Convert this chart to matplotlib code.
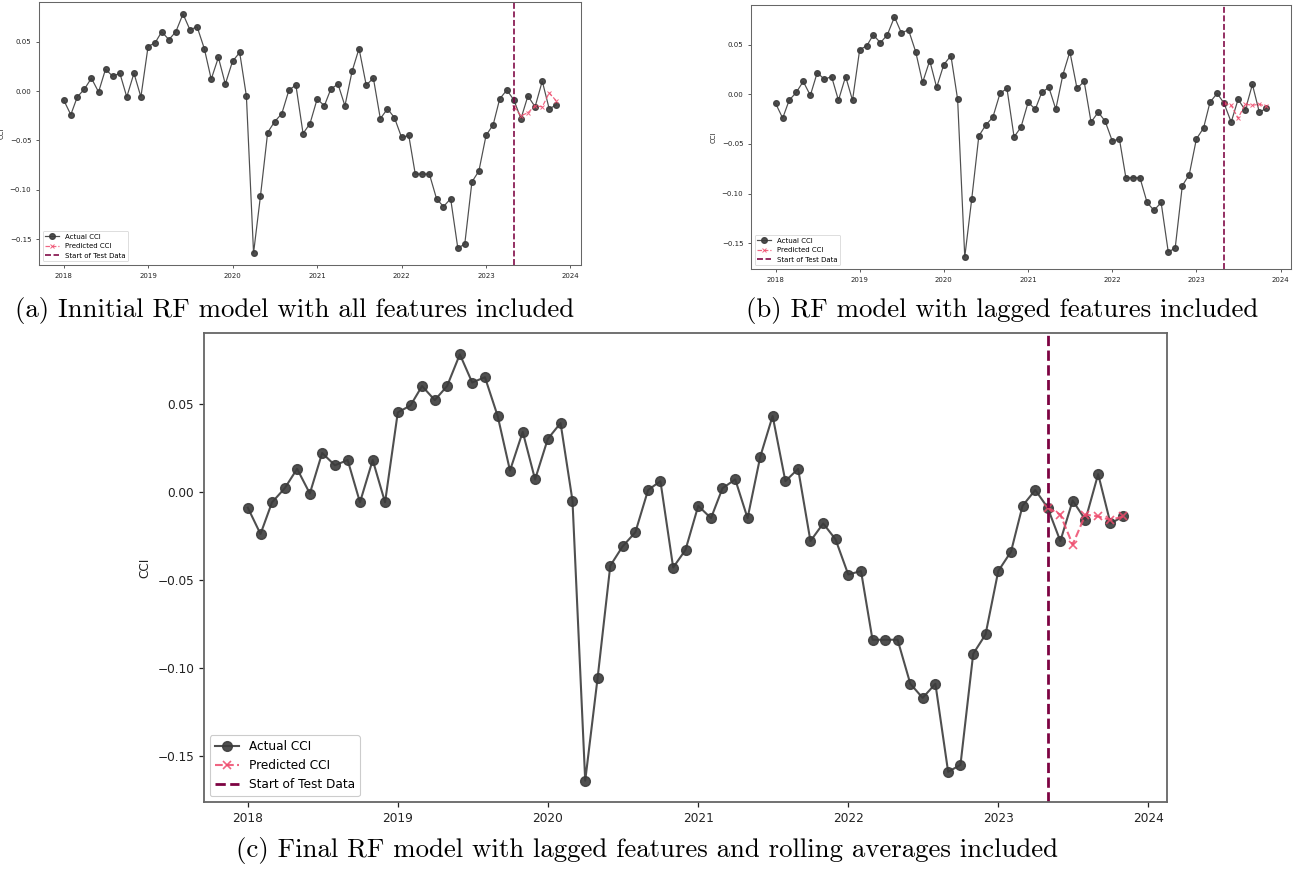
import matplotlib
matplotlib.use("Agg")
import matplotlib.pyplot as plt
import matplotlib.dates as mdates
import pandas as pd

# ---------------- data ----------------
start_month = "2018-01-01"
actual_cci = [
    -0.009, -0.024, -0.006, 0.002, 0.013, -0.001, 0.022, 0.015, 0.018, -0.006, 0.018, -0.006,
    0.045, 0.049, 0.060, 0.052, 0.060, 0.078, 0.062, 0.065, 0.043, 0.012, 0.034, 0.007,
    0.030, 0.039, -0.005, -0.164, -0.106, -0.042, -0.031, -0.023, 0.001, 0.006, -0.043, -0.033,
    -0.008, -0.015, 0.002, 0.007, -0.015, 0.020, 0.043, 0.006, 0.013, -0.028, -0.018, -0.027,
    -0.047, -0.045, -0.084, -0.084, -0.084, -0.109, -0.117, -0.109, -0.159, -0.155, -0.092, -0.081,
    -0.045, -0.034, -0.008, 0.001, -0.009, -0.028, -0.005, -0.016, 0.010, -0.018, -0.014,
]
test_start = "2023-05-01"
pred_a = [-0.016, -0.025, -0.022, -0.015, -0.016, -0.002, -0.010]
pred_b = [-0.009, -0.011, -0.024, -0.010, -0.011, -0.010, -0.012]
pred_c = [-0.009, -0.013, -0.030, -0.013, -0.014, -0.016, -0.014]

captions = [
    "(a) Innitial RF model with all features included",
    "(b) RF model with lagged features included",
    "(c) Final RF model with lagged features and rolling averages included",
]
labels = ["Actual CCI", "Predicted CCI", "Start of Test Data"]

dates = pd.date_range(start_month, periods=len(actual_cci), freq="MS")
test_dates = pd.date_range(test_start, periods=len(pred_c), freq="MS")

ACTUAL_COLOR = "#3c3c3c"
PRED_COLOR = "#ee4a6c"
START_COLOR = "#7d0342"

fig = plt.figure(figsize=(12.93, 8.69), dpi=100)


def draw(rect, pred, s):
    ax = fig.add_axes(rect)
    ax.plot(dates, actual_cci, color=ACTUAL_COLOR, marker="o", lw=1.5 * s,
            ms=7 * s, alpha=0.9, label=labels[0])
    ax.plot(test_dates, pred, color=PRED_COLOR, ls="--", marker="x", lw=1.5 * s,
            ms=6 * s, mew=1.2 * s, alpha=0.85, label=labels[1])
    ax.axvline(pd.Timestamp(test_start), color=START_COLOR, ls="--", lw=2.0 * s,
               label=labels[2])
    ax.set_ylabel("CCI", fontsize=8.7 * s, color="#222222")
    ax.xaxis.set_major_locator(mdates.YearLocator())
    ax.xaxis.set_major_formatter(mdates.DateFormatter("%Y"))
    ax.tick_params(labelsize=8.7 * s, colors="#222222", width=0.9 * s,
                   length=3.5 * s)
    for sp in ax.spines.values():
        sp.set_color("#666666")
        sp.set_linewidth(1.3 * s)
    leg = ax.legend(loc="lower left", fontsize=8.7 * s, handlelength=2.0,
                    borderpad=0.4, labelspacing=0.5, framealpha=1)
    leg.get_frame().set_edgecolor("#cccccc")
    leg.get_frame().set_linewidth(0.8 * s)
    return ax


ax_a = draw([39 / 1293, 1 - 265 / 869, 542 / 1293, 263 / 869], pred_a, 0.58)
ax_b = draw([751 / 1293, 1 - 269 / 869, 540 / 1293, 264 / 869], pred_b, 0.58)
ax_c = draw([204 / 1293, 1 - 802 / 869, 963 / 1293, 469 / 869], pred_c, 1.0)

cap_font = dict(family="cmr10", fontsize=19.3, ha="center", va="center")
fig.text(295 / 1293, 1 - 310 / 869, captions[0], **cap_font)
fig.text(1002 / 1293, 1 - 310 / 869, captions[1], **cap_font)
fig.text(647 / 1293, 1 - 850 / 869, captions[2], **cap_font)

fig.savefig("out.png", dpi=100)
